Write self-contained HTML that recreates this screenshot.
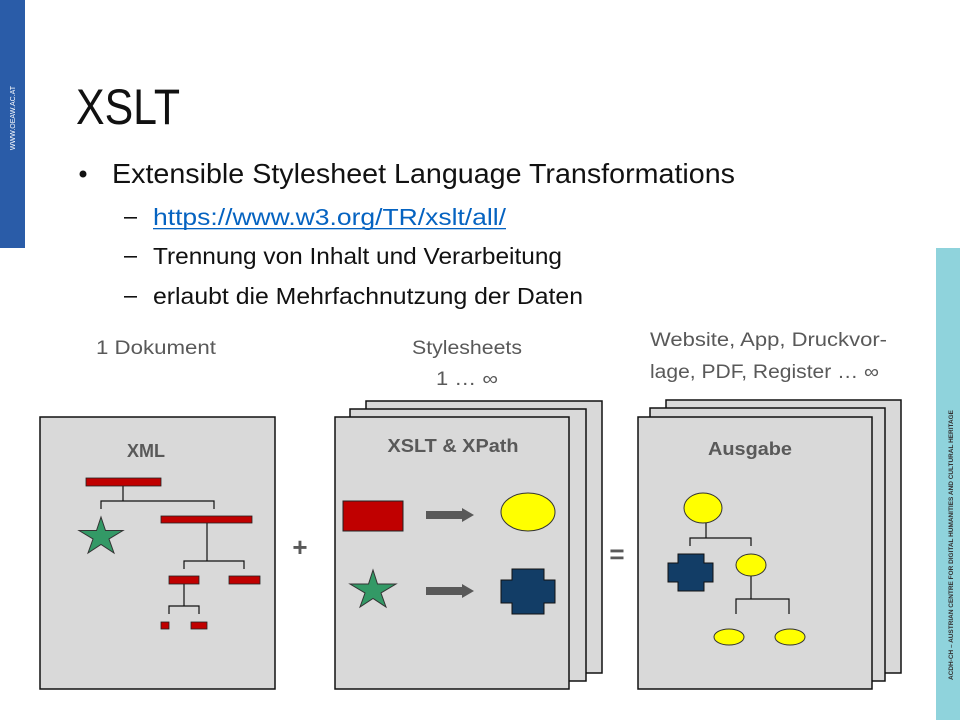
<!DOCTYPE html>
<html><head><meta charset="utf-8"><style>
html,body{margin:0;padding:0;background:#fff;}
svg{display:block;}
text{font-family:"Liberation Sans",sans-serif;}
</style></head><body>
<svg width="960" height="720" viewBox="0 0 960 720" xmlns="http://www.w3.org/2000/svg">
<rect x="0" y="0" width="25" height="248" fill="#2a5ca8"/>
<text transform="translate(15,118) rotate(-90)" font-size="7" fill="#fff" text-anchor="middle">WWW.OEAW.AC.AT</text>
<rect x="936" y="248" width="24" height="472" fill="#8fd3dc"/>
<text transform="translate(953,545) rotate(-90)" font-size="6.5" font-weight="bold" fill="#333" text-anchor="middle" textLength="270" lengthAdjust="spacingAndGlyphs">ACDH-CH – AUSTRIAN CENTRE FOR DIGITAL HUMANITIES AND CULTURAL HERITAGE</text>

<text x="76" y="124" font-size="50" fill="#111" textLength="104" lengthAdjust="spacingAndGlyphs">XSLT</text>
<circle cx="83" cy="174" r="3.5" fill="#111"/>
<text x="112" y="183" font-size="28" fill="#111" textLength="623" lengthAdjust="spacingAndGlyphs">Extensible Stylesheet Language Transformations</text>
<g font-size="23" fill="#111">
<rect x="124" y="217" width="13" height="1.6" fill="#111"/>
<text x="153" y="225" fill="#0563c1" textLength="353" lengthAdjust="spacingAndGlyphs">https://www.w3.org/TR/xslt/all/</text>
<rect x="153" y="228" width="353" height="1.3" fill="#0563c1"/>
<rect x="124" y="256" width="13" height="1.6" fill="#111"/>
<text x="153" y="264" textLength="409" lengthAdjust="spacingAndGlyphs">Trennung von Inhalt und Verarbeitung</text>
<rect x="124" y="296" width="13" height="1.6" fill="#111"/>
<text x="153" y="304" textLength="430" lengthAdjust="spacingAndGlyphs">erlaubt die Mehrfachnutzung der Daten</text>
</g>
<g font-size="19" fill="#595959">
<text x="96" y="354" textLength="120" lengthAdjust="spacingAndGlyphs">1 Dokument</text>
<text x="412" y="354" textLength="110" lengthAdjust="spacingAndGlyphs">Stylesheets</text>
<text x="436" y="385" textLength="62" lengthAdjust="spacingAndGlyphs">1 … ∞</text>
<text x="650" y="346" textLength="237" lengthAdjust="spacingAndGlyphs">Website, App, Druckvor-</text>
<text x="650" y="378" textLength="229" lengthAdjust="spacingAndGlyphs">lage, PDF, Register … ∞</text>
</g>

<g fill="#d9d9d9" stroke="#111" stroke-width="1.5">
<rect x="40" y="417" width="235" height="272"/>
<rect x="366" y="401" width="236" height="272"/>
<rect x="350" y="409" width="236" height="272"/>
<rect x="335" y="417" width="234" height="272"/>
<rect x="666" y="400" width="235" height="273"/>
<rect x="650" y="408" width="235" height="273"/>
<rect x="638" y="417" width="234" height="272"/>
</g>
<g font-size="18" font-weight="bold" fill="#595959" text-anchor="middle">
<text x="146" y="457">XML</text>
<text x="453" y="452" textLength="131" lengthAdjust="spacingAndGlyphs">XSLT &amp; XPath</text>
<text x="750" y="455" textLength="84" lengthAdjust="spacingAndGlyphs">Ausgabe</text>
</g>
<text x="300" y="556" font-size="26" font-weight="bold" fill="#595959" text-anchor="middle">+</text>
<text x="617" y="563" font-size="26" font-weight="bold" fill="#595959" text-anchor="middle">=</text>

<!-- XML tree -->
<g stroke="#111" stroke-width="1.2" fill="none">
<path d="M123 486V501M101 509V501H214V509"/>
<path d="M207 523V561M184 569V561H244V569"/>
<path d="M184 584V606M169 614V606H199V614"/>
</g>
<g fill="#c00000" stroke="#222" stroke-width="0.8">
<rect x="86" y="478" width="75" height="8"/>
<rect x="161" y="516" width="91" height="7"/>
<rect x="169" y="576" width="30" height="8"/>
<rect x="229" y="576" width="31" height="8"/>
<rect x="161" y="622" width="8" height="7"/>
<rect x="191" y="622" width="16" height="7"/>
</g>
<polygon points="101,517 105.5,530.5 123,530.5 109,539 114,553 101,544.5 88,553 93,539 79,530.5 96.5,530.5" fill="#339966" stroke="#333" stroke-width="1"/>

<!-- middle -->
<rect x="343" y="501" width="60" height="30" fill="#c00000" stroke="#222" stroke-width="1"/>
<polygon points="426,511 462,511 462,508 474,515 462,522 462,519 426,519" fill="#595959"/>
<ellipse cx="528" cy="512" rx="27" ry="19" fill="#ffff00" stroke="#333" stroke-width="1"/>
<polygon points="373,570 377.5,584 396,584 381,593 386,607 373,598.5 360,607 365,593 350,584 368.5,584" fill="#339966" stroke="#333" stroke-width="1"/>
<polygon points="426,587 462,587 462,584 474,591 462,598 462,595 426,595" fill="#595959"/>
<polygon points="512,569 544,569 544,580 555,580 555,603 544,603 544,614 512,614 512,603 501,603 501,580 512,580" fill="#123d66" stroke="#111" stroke-width="1"/>

<!-- output tree -->
<g stroke="#111" stroke-width="1.2" fill="none">
<path d="M706 523V538M690 546V538H751V546"/>
<path d="M751 576V599M736 614V599H789V614"/>
</g>
<ellipse cx="703" cy="508" rx="19" ry="15" fill="#ffff00" stroke="#333" stroke-width="1"/>
<polygon points="678,554 704,554 704,563 713,563 713,582 704,582 704,591 678,591 678,582 668,582 668,563 678,563" fill="#123d66" stroke="#111" stroke-width="1"/>
<ellipse cx="751" cy="565" rx="15" ry="11" fill="#ffff00" stroke="#333" stroke-width="1"/>
<ellipse cx="729" cy="637" rx="15" ry="8" fill="#ffff00" stroke="#333" stroke-width="1"/>
<ellipse cx="790" cy="637" rx="15" ry="8" fill="#ffff00" stroke="#333" stroke-width="1"/>
</svg>
</body></html>
